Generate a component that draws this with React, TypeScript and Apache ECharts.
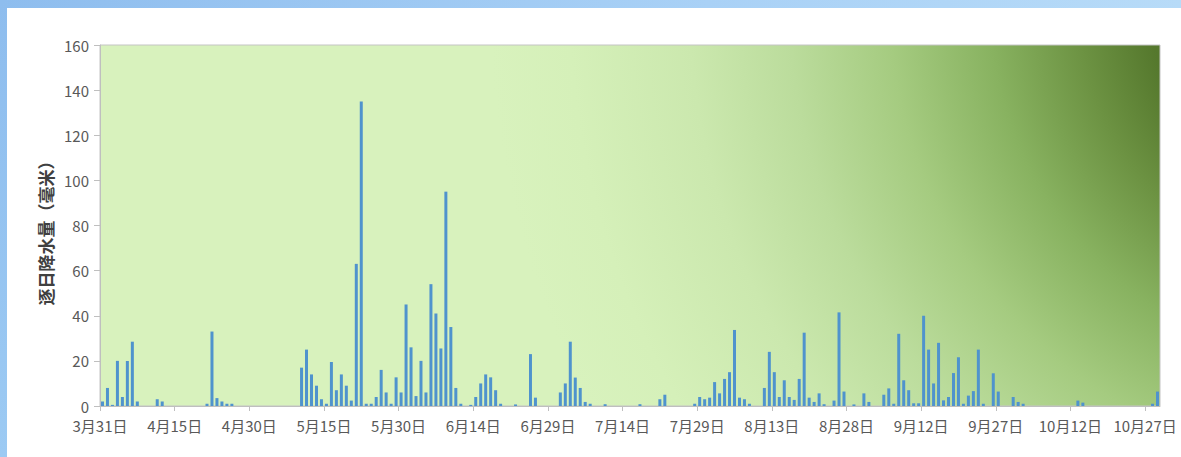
import React, { useEffect, useRef } from "react";
import * as echarts from "echarts";

// Tick labels every 15 days starting 3月31日 (day index 0)
const tickLabels = ["3月31日", "4月15日", "4月30日", "5月15日", "5月30日", "6月14日", "6月29日", "7月14日", "7月29日", "8月13日", "8月28日", "9月12日", "9月27日", "10月12日", "10月27日"];
const tickStep = 15;
const dayCount = 213; // 3月31日 .. 10月29日
const axisTitle = "逐日降水量（毫米）";

// Daily rainfall (mm), one row per 15-day period
const rainP01 = [2, 8, 0.5, 20, 4, 20, 28.5, 2, 0, 0, 0, 3, 2, 0, 0];
const rainP02 = [0, 0, 0, 0, 0, 0, 1, 33, 3.5, 2, 1, 1, 0, 0, 0];
const rainP03 = [0, 0, 0, 0, 0, 0, 0, 0, 0, 0, 17, 25, 14, 9, 3];
const rainP04 = [1, 19.5, 7, 14, 9, 2.4, 63, 135, 1, 1, 4, 16, 6, 1, 12.7];
const rainP05 = [6, 45, 26, 4.4, 20, 6, 54, 41, 25.5, 95, 35, 8, 1, 0, 0.5];
const rainP06 = [4, 10, 14, 12.7, 7, 1, 0, 0, 0.7, 0, 0, 23, 3.7, 0, 0];
const rainP07 = [0, 0, 6, 10, 28.5, 12.6, 8, 1.8, 1, 0, 0, 0.8, 0, 0, 0];
const rainP08 = [0, 0, 0, 0.8, 0, 0, 0, 3, 5, 0, 0, 0, 0, 0, 1];
const rainP09 = [4, 3, 3.7, 10.6, 5.6, 12, 15, 33.7, 3.7, 3, 1, 0, 0, 8, 24];
const rainP10 = [15, 4, 11.4, 4, 2.7, 12, 32.5, 3.7, 1.8, 5.6, 0.8, 0, 2.4, 41.5, 6.4];
const rainP11 = [0, 0.7, 0, 5.6, 1.8, 0, 0, 5, 7.8, 1, 32, 11.4, 7, 1.2, 1.2];
const rainP12 = [40, 25, 10, 28, 2.5, 4, 14.6, 21.6, 1, 4.6, 6.6, 25, 1, 0, 14.5];
const rainP13 = [6.4, 0, 0, 4, 1.8, 1, 0, 0, 0, 0, 0, 0, 0, 0, 0];
const rainP14 = [0, 2.4, 1.5, 0, 0, 0, 0, 0, 0, 0, 0, 0, 0, 0, 0];
const rainP15 = [0, 1, 6.4];

const dailyRain = [
  ...rainP01, ...rainP02, ...rainP03, ...rainP04, ...rainP05,
  ...rainP06, ...rainP07, ...rainP08, ...rainP09, ...rainP10,
  ...rainP11, ...rainP12, ...rainP13, ...rainP14, ...rainP15,
];

const FONT = '"Noto Sans CJK SC", "Noto Sans", sans-serif';

export default function App() {
  const ref = useRef<HTMLDivElement>(null);

  useEffect(() => {
    if (!ref.current) return;
    const chart = echarts.init(ref.current, null, { renderer: "svg" });
    chart.setOption({
      animation: false,
      textStyle: { fontFamily: FONT },
      grid: {
        left: 100,
        top: 45,
        right: 21,
        bottom: 51,
        show: true,
        borderColor: "#c4c4c4",
        borderWidth: 1,
        backgroundColor: "transparent",
      },
      xAxis: {
        type: "value",
        min: 0,
        max: dayCount,
        interval: tickStep,
        axisLine: { show: true, lineStyle: { color: "#bfbfbf", width: 1 } },
        axisTick: { show: true, length: 5, lineStyle: { color: "#bfbfbf" } },
        splitLine: { show: false },
        axisLabel: {
          color: "#595959",
          fontSize: 15,
          fontFamily: FONT,
          margin: 12,
          showMaxLabel: false,
          formatter: (v: number) => {
            const i = Math.round(v / tickStep);
            return Math.abs(v - i * tickStep) < 1e-6 && tickLabels[i] ? tickLabels[i] : "";
          },
        },
      },
      yAxis: {
        type: "value",
        min: 0,
        max: 160,
        interval: 20,
        axisLine: { show: true, lineStyle: { color: "#bfbfbf", width: 1 } },
        axisTick: { show: true, length: 6, lineStyle: { color: "#bfbfbf" } },
        splitLine: { show: false },
        axisLabel: { color: "#595959", fontSize: 15, fontFamily: FONT, margin: 11 },
      },
      graphic: [
        {
          type: "text",
          x: 45,
          y: 229,
          rotation: Math.PI / 2,
          style: {
            text: axisTitle,
            fontSize: 17,
            fontWeight: "bold",
            fontFamily: FONT,
            fill: "#404040",
            align: "center",
            verticalAlign: "middle",
          },
        },
      ],
      series: [
        {
          type: "bar",
          barWidth: 3,
          itemStyle: { color: "#4f93cd" },
          data: dailyRain.map((v, i) => [i + 0.5, v]),
        },
      ],
    });
    return () => chart.dispose();
  }, []);

  return (
    <div style={{ position: "fixed", left: 0, top: 0, width: 1181, height: 457, background: "#ffffff", overflow: "hidden" }}>
      <div style={{ position: "absolute", left: 0, top: 0, width: 1181, height: 8, background: "linear-gradient(to right, #8ebdee, #a9d1f6 60%, #b7dbf8)" }} />
      <div style={{ position: "absolute", left: 0, top: 0, width: 7, height: 457, background: "linear-gradient(to bottom, #8ebdee, #9ccaf3)" }} />
      <div
        style={{
          position: "absolute",
          left: 100,
          top: 45,
          width: 1060,
          height: 361,
          background:
            "radial-gradient(ellipse 1000px 1000px at 1250px -40px, #4e7128 0%, #55782d 20%, #6c9242 27%, #88b260 36%, #a5cb80 46%, #bbdc9c 56%, #cbe8ae 66%, #d5f0b9 78%, #d8f2bd 86%, #d8f2bd 100%)",
        }}
      />
      <div ref={ref} style={{ position: "absolute", left: 0, top: 0, width: 1181, height: 457 }} />
    </div>
  );
}
